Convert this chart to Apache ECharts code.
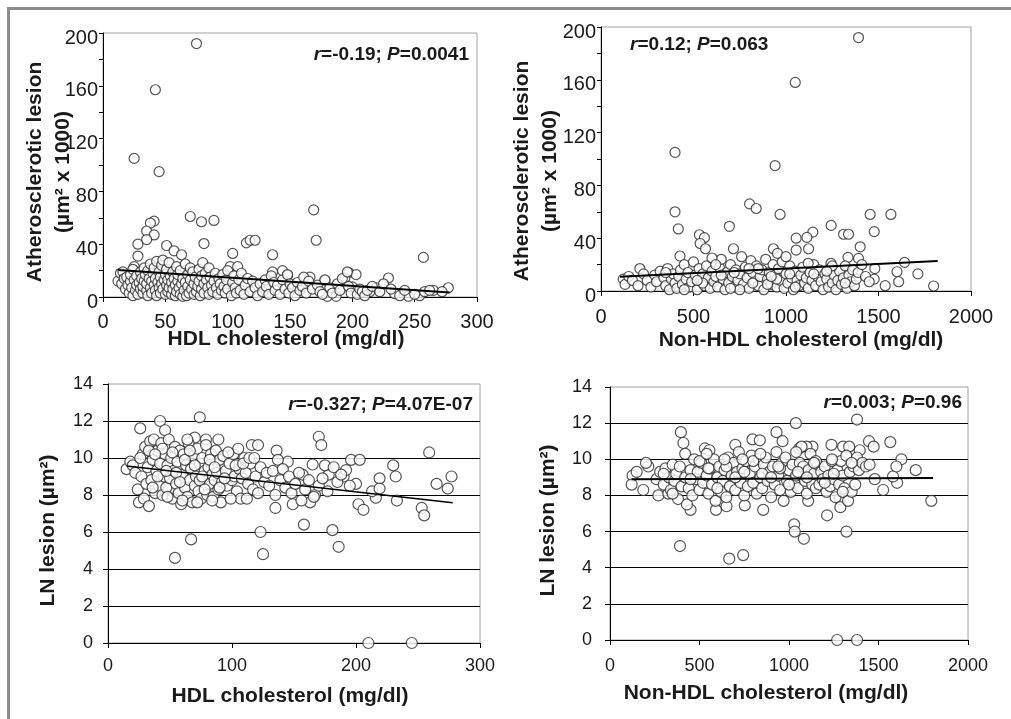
<!DOCTYPE html>
<html lang="en">
<head>
    <meta charset="UTF-8">
    <title>Lesion vs cholesterol</title>
    <style>
        body { margin: 0; background: #fff; }
        #chart { width: 1011px; height: 719px; }
    </style>
    <script src="https://cdn.jsdelivr.net/npm/echarts@6/dist/echarts.min.js"></script>
</head>
<body>
<div id="chart"></div>
<script>
    // HDL cholesterol vs atherosclerotic lesion (x1000)
    var hdlAth = [
        [75,192],[42,157],[25,105],[45,95],[169,66],[171,43],[70,61],[79,57],[89,58],[41,57.5],[38,56],
        [35,50],[41,47],[35,43.5],[28,40],[28,31],[25,23],[51,39],[57,35],[63,32],[81,40.5],[115,41],
        [118,43],[122,43],[136,32],[104,33],[102,23],[108,23],[136,19],[144,20],[148,16.5],[166,15],
        [178,12.7],[197,18.5],[203,17],[194,14.4],[229,14.4],[257,30],[265,5],[277,7],[245,0.5],[254,1],
        [219,7],[214,4],[200,7.6],[234,2.5],[180,0.5],[187,0.5],
        [12,12],[14,18],[15,10],[16,19],[17,14],[18,6],[19,15],[20,9],[21,3],[22,12],[22,17],[23,7],
        [24,21],[24,1],[25,13],[26,5],[27,9],[27,16],[28,2],[29,11],[30,19],[30,6],[31,14],[32,3],
        [32,8],[33,22],[33,12],[34,17],[35,5],[35,10],[36,1],[36,20],[37,14],[38,7],[38,25],[39,3],
        [39,12],[40,18],[41,9],[41,22],[42,5],[42,14],[43,1],[43,27],[44,11],[45,7],[45,19],[46,15],
        [46,3],[47,24],[47,10],[48,6],[48,28],[49,13],[50,2],[50,17],[51,9],[51,21],[52,4],[52,13],
        [53,26],[53,7],[54,16],[55,2],[55,11],[56,19],[56,6],[57,14],[58,1],[58,9],[59,23],[59,4],
        [60,12],[60,17],[61,7],[62,2],[62,20],[63,10],[64,14],[64,0.5],[65,5],[66,25],[66,11],[67,1],
        [68,17],[68,8],[69,3],[70,13],[70,22],[71,6],[72,19],[73,2],[73,10],[74,15],[75,4],[76,8],
        [77,21],[77,12],[78,1],[79,16],[79,6],[80,26],[81,10],[81,3],[82,18],[83,13],[84,7],[85,22],
        [85,2],[86,15],[87,9],[88,4],[89,12],[90,18],[91,7],[92,2],[93,14],[94,10],[95,5],[96,17],
        [97,8],[98,3],[99,13],[100,20],[100,6],[103,1],[104,11],[105,16],[106,7],[107,3],[109,13],
        [110,5],[111,18],[113,2],[114,9],[116,14],[118,4],[120,12],[122,7],[124,1],[126,10],[128,4],
        [130,13],[131,8],[133,2],[135,16],[137,11],[138,5],[140,9],[142,2],[144,13],[146,6],[148,17],
        [149,3],[150,10],[152,7],[154,1],[156,11],[158,5],[160,8],[161,15],[163,3],[165,12],[168,6],
        [172,9],[174,4],[176,2],[178,13],[182,7],[184,3],[188,10],[190,5],[192,14],[196,19],[197,8],
        [199,3],[204,2],[206,6],[208,4],[210,1],[212,5],[216,8],[222,4],[225,10],[231,6],[238,1],
        [242,5],[250,2],[258,4],[262,5],[272,4]
    ];
    var hdlAthTrend = [[12,20.5],[278,3.5]];

    // Non-HDL cholesterol vs atherosclerotic lesion (x1000)
    var nonHdlAth = [
        [1392,192],[1050,158],[400,105],[941,95],[400,60],[418,47],[803,66],[839,62.5],[968,58],
        [1455,58],[1567,58],[1244,49.7],[1311,43],[1338,43],[1477,45],[1145,44.6],[1113,40.6],
        [1122,32],[1055,40],[1055,31],[694,49],[532,42.6],[559,40.4],[536,36],[565,32],[716,32],
        [427,26.5],[932,32],[954,28.5],[1401,33.5],[1392,24.7],[1335,25.5],[1641,21.7],[1713,13],
        [1798,3.8],[1536,4],[1600,14.6],[1609,7],[1477,9],[1243,21],
        [120,9],[130,5],[150,11],[170,8],[200,4],[210,17],[230,13],[250,8],[270,3],[290,12],[300,7],
        [320,15],[340,10],[350,4],[360,17],[370,1],[380,9],[390,13],[400,6],[410,2],[420,11],[430,16],
        [440,5],[450,20],[460,9],[470,14],[480,3],[490,7],[500,22],[510,12],[520,1],[530,17],[540,8],
        [550,13],[560,4],[570,19],[580,10],[590,2],[600,15],[610,7],[620,11],[630,3],[640,18],[650,24],
        [660,9],[670,1],[680,14],[690,6],[700,20],[710,11],[720,3],[730,16],[740,8],[750,13],[760,26],
        [770,5],[780,18],[790,10],[800,2],[810,23],[820,14],[830,7],[840,19],[850,4],[860,11],[870,16],
        [880,1],[890,24],[900,9],[910,14],[920,5],[930,20],[940,12],[950,3],[960,17],[970,8],[980,22],
        [990,2],[1000,13],[1010,6],[1020,19],[1030,10],[1040,1],[1050,15],[1060,8],[1070,4],[1080,12],
        [1090,18],[1100,6],[1110,10],[1120,2],[1130,14],[1140,8],[1150,20],[1160,4],[1170,11],[1180,16],
        [1190,7],[1200,1],[1210,13],[1220,9],[1230,3],[1240,17],[1250,6],[1260,12],[1270,1],[1280,8],
        [1290,15],[1300,5],[1310,10],[1320,19],[1330,2],[1340,12],[1350,7],[1360,16],[1370,4],[1380,9],
        [1390,14],[1410,20],[1430,11],[1450,7],[1480,17],
        [350,14],[450,1],[550,6],[650,12],[750,1],[850,17],[950,9],[1050,3],[1150,13],[1250,19],
        [600,25],[700,2],[800,17],[900,5],[1000,26],[520,8],[620,20],[720,14],[820,6],[920,11],
        [1020,13],[1120,21],[1220,15],[1320,6]
    ];
    var nonHdlAthTrend = [[103,10.8],[1820,22.7]];

    // HDL cholesterol vs LN lesion
    var hdlLn = [
        [54,4.6],[67,5.6],[125,4.8],[123,6.0],[158,6.4],[181,6.1],[186,5.2],[210,0],[245,0],
        [74,12.2],[42,12.0],[26,11.6],[46,11.5],[89,11.0],[70,11.1],[79,11.0],[116,10.7],[121,10.7],
        [170,11.15],[172,10.7],[136,10.4],[259,10.3],[196,9.9],[203,9.9],[178,9.1],[175,9.6],
        [230,9.6],[232,9.0],[190,9.0],[192,9.35],[219,8.9],[200,8.6],[202,7.5],[206,7.2],[265,8.6],
        [277,9.0],[274,8.35],[253,7.3],[255,6.9],[233,7.7],[216,7.85],[213,8.2],[219,8.35],[149,7.5],
        [135,7.3],[163,7.6],[157,9.1],[145,9.8],[165,9.65],[167,8.0],[182,9.5],
        [15,9.4],[18,9.8],[20,9.6],[22,9.2],[24,8.3],[25,7.6],[27,9.0],[28,10.2],[29,7.8],[30,10.6],
        [31,8.6],[32,9.5],[33,7.4],[34,10.9],[35,8.8],[36,9.9],[37,11.0],[38,8.1],[39,9.3],[40,10.4],
        [41,8.5],[42,9.7],[43,10.8],[44,8.0],[45,9.0],[46,10.2],[47,8.4],[48,9.6],[49,11.0],[50,8.9],
        [51,10.0],[52,7.8],[53,9.3],[54,10.6],[55,8.6],[56,9.8],[57,8.1],[58,10.4],[59,7.5],[60,9.1],
        [61,10.2],[62,8.4],[63,9.6],[64,7.9],[65,10.8],[66,8.8],[67,9.4],[68,7.6],[69,10.1],[70,8.5],
        [71,9.0],[72,10.5],[73,8.2],[74,9.7],[75,7.8],[76,10.0],[77,8.9],[78,9.3],[79,10.7],[80,8.0],
        [81,9.5],[82,8.6],[83,10.2],[84,9.1],[85,7.9],[86,8.8],[87,10.4],[88,9.2],[89,8.3],[90,9.9],
        [91,7.6],[92,8.7],[93,10.1],[95,9.3],[96,8.5],[98,9.7],[100,8.8],[101,10.2],[102,9.0],[104,8.2],
        [105,10.5],[106,9.4],[107,7.8],[108,8.9],[110,10.0],[111,9.2],[112,7.8],[113,8.6],[115,9.7],
        [117,8.3],[119,9.0],[121,8.1],[123,9.5],[126,8.7],[128,9.2],[130,8.5],[133,9.3],[135,8.0],
        [137,9.9],[139,8.8],[141,9.4],[143,8.4],[146,9.0],[148,8.1],[151,8.6],[154,9.2],[156,7.7],
        [159,8.3],[162,8.8],[166,7.9],[170,8.5],[173,8.9],[177,8.2],[185,8.7],[188,9.1],[195,8.5],
        [26,10.0],[33,10.4],[36,8.4],[40,9.0],[44,10.5],[47,9.3],[52,10.3],[55,9.2],[58,8.7],[62,9.9],
        [66,10.4],[70,9.6],[74,8.8],[78,8.3],[82,9.9],[86,9.5],[90,8.4],[94,8.9],[97,10.3],[99,7.8],
        [103,9.6],[109,9.7],[114,10.0],[118,10.0],[48,7.9],[60,7.7],[72,7.6],[84,7.7],[38,10.2],
        [64,11.0],[76,9.0]
    ];
    var hdlLnTrend = [[15,9.57],[278,7.58]];

    // Non-HDL cholesterol vs LN lesion
    var nonHdlLn = [
        [1380,12.2],[1038,12.0],[396,11.5],[930,11.5],[796,11.1],[837,11.05],[964,11.0],[1447,11.0],
        [1473,10.7],[1566,10.95],[1628,10.0],[1708,9.4],[1795,7.7],[1526,8.3],[1604,8.7],[1581,9.05],
        [1600,9.6],[1479,8.9],[391,5.2],[666,4.5],[744,4.7],[1029,6.4],[1032,6.0],[1083,5.6],
        [1321,6.0],[1213,6.9],[1269,0],[1380,0],[856,7.2],[450,7.2],[592,7.2],[651,7.4],[753,7.45],
        [1107,7.7],[1283,7.8],[1287,7.35],[1237,10.8],[1302,10.7],[1336,10.7],[1131,10.7],[1057,10.6],
        [1098,10.7],[1395,10.5],[126,9.1],[121,8.6],[149,9.3],[214,9.6],[201,9.8],[186,8.3],[270,8.0],
        [326,8.1],
        [260,8.9],[280,9.3],[300,8.6],[310,9.5],[330,9.0],[340,8.3],[350,9.7],[360,8.8],[370,9.2],
        [380,7.8],[390,9.6],[400,8.5],[410,10.9],[420,9.0],[420,10.3],[430,7.5],[440,8.4],[450,9.4],
        [460,8.0],[470,10.0],[480,8.9],[490,9.3],[500,8.3],[510,9.8],[520,8.7],[530,10.6],[540,9.1],
        [550,8.1],[555,10.5],[560,9.5],[570,8.6],[580,10.0],[590,7.7],[600,9.0],[610,9.6],[620,8.2],
        [630,8.8],[640,9.4],[650,7.9],[660,10.1],[670,8.5],[680,9.1],[690,9.8],[700,10.8],[700,8.3],
        [710,9.3],[720,10.4],[730,8.7],[740,9.5],[750,8.0],[760,9.9],[770,8.5],[780,9.2],[790,10.2],
        [800,8.7],[810,9.6],[820,8.1],[830,10.0],[840,9.0],[850,8.4],[860,9.7],[870,10.1],[880,8.8],
        [890,9.3],[900,7.9],[910,9.6],[920,8.6],[930,10.4],[940,9.1],[950,8.3],[960,9.8],[970,7.7],
        [980,10.1],[990,8.8],[1000,9.4],[1010,8.2],[1020,9.7],[1030,8.7],[1040,9.1],[1050,8.4],
        [1060,9.8],[1070,10.7],[1080,9.6],[1090,8.8],[1100,8.1],[1110,9.4],[1120,10.3],[1130,8.6],
        [1140,9.2],[1150,8.4],[1160,9.7],[1170,8.6],[1180,9.3],[1190,8.9],[1200,9.6],[1210,8.2],
        [1220,9.1],[1230,8.5],[1240,9.9],[1250,8.9],[1260,7.9],[1270,9.4],[1280,8.6],[1290,9.9],
        [1300,9.1],[1310,8.4],[1320,10.2],[1330,7.7],[1340,9.3],[1350,8.2],[1360,9.6],[1370,8.6],
        [1380,10.1],[1390,9.4],[1410,9.8],[1430,9.6],[1450,9.7],
        [300,9.2],[350,8.1],[450,8.9],[500,9.9],[550,9.5],[600,8.4],[650,9.6],[700,9.0],[750,9.3],
        [800,9.9],[850,9.2],[900,9.0],[950,9.5],[1000,8.6],[1050,9.3],[1100,9.0],[1150,9.9],[1200,8.7],
        [1250,9.2],[1300,8.2],[1350,9.8],[540,10.3],[640,10.0],[740,10.0],[840,10.3],[940,9.6],
        [1040,10.4],[1140,9.8],[1240,10.0]
    ];
    var nonHdlLnTrend = [[121,8.9],[1805,8.96]];

    var FONT = "'Liberation Sans', Arial, sans-serif";
    var INK = '#1a1a1a';

    var chart = echarts.init(document.getElementById('chart'));

    function plain(v) { return String(v); }

    function xAxis(i, max, step, name, gap, pad, size, margin) {
        return {
            gridIndex: i, type: 'value', min: 0, max: max, interval: step,
            name: name, nameLocation: 'middle', nameGap: gap, nameMoveOverlap: false,
            nameTextStyle: { fontFamily: FONT, fontSize: 21, fontWeight: 'bold', color: INK, padding: pad },
            axisLine: { lineStyle: { color: '#000', width: 1 } },
            axisTick: { show: true, length: 5, lineStyle: { color: '#000' } },
            axisLabel: { fontFamily: FONT, fontSize: size, color: INK, margin: margin, formatter: plain },
            splitLine: { show: false }
        };
    }

    function topY(i, gap, pad) {
        return {
            gridIndex: i, type: 'value', min: 0, max: 200, interval: 20,
            name: 'Atherosclerotic lesion\n(µm² x 1000)', nameLocation: 'middle', nameGap: gap,
            nameMoveOverlap: false,
            nameTextStyle: { fontFamily: FONT, fontSize: 21, fontWeight: 'bold', color: INK, lineHeight: 28, padding: pad },
            axisLine: { show: true, lineStyle: { color: '#000', width: 1 } },
            axisTick: { show: true, length: 4, lineStyle: { color: '#000' } },
            axisLabel: {
                fontFamily: FONT, fontSize: 20, color: INK, margin: 5,
                verticalAlign: 'top', lineHeight: 10,
                formatter: function (v) { return v % 40 === 0 ? String(v) : ''; }
            },
            splitLine: { show: false }
        };
    }

    function lnY(i, gap, pad, margin) {
        return {
            gridIndex: i, type: 'value', min: 0, max: 14, interval: 2,
            name: 'LN lesion (µm²)', nameLocation: 'middle', nameGap: gap, nameMoveOverlap: false,
            nameTextStyle: { fontFamily: FONT, fontSize: 21, fontWeight: 'bold', color: INK, padding: pad },
            axisLine: { show: true, lineStyle: { color: '#000', width: 1 } },
            axisTick: { show: true, length: 5, lineStyle: { color: '#000' } },
            axisLabel: { fontFamily: FONT, fontSize: 18, color: INK, margin: margin, formatter: plain },
            splitLine: { show: true, showMaxLine: false, lineStyle: { color: '#000', width: 1 } }
        };
    }

    function dots(i, data, size) {
        return {
            type: 'scatter', xAxisIndex: i, yAxisIndex: i, data: data,
            symbol: 'circle', symbolSize: size,
            itemStyle: { color: '#fff', borderColor: '#2a2a2a', borderWidth: 1.2 },
            z: 2
        };
    }

    function trend(i, data, width) {
        return {
            type: 'line', xAxisIndex: i, yAxisIndex: i, data: data,
            symbol: 'none', lineStyle: { color: '#000', width: width }, z: 3
        };
    }

    function note(x, y, align, r, p) {
        return {
            type: 'text', x: x, y: y, z: 10,
            style: {
                text: '{i|r}{b|=' + r + '; }{i|P}{b|=' + p + '}',
                align: align, verticalAlign: 'middle',
                rich: {
                    i: { fontFamily: FONT, fontSize: 19, fontWeight: 'bold', fontStyle: 'italic', fill: INK },
                    b: { fontFamily: FONT, fontSize: 19, fontWeight: 'bold', fill: INK }
                }
            }
        };
    }

    var gridBox = { show: true, borderColor: '#a0a0a0', borderWidth: 1, backgroundColor: 'transparent' };

    chart.setOption({
        animation: false,
        backgroundColor: '#fff',
        grid: [
            Object.assign({ left: 103, top: 33, width: 374, height: 264 }, gridBox),
            Object.assign({ left: 601, top: 27, width: 370, height: 264 }, gridBox),
            Object.assign({ left: 108, top: 384, width: 372, height: 259 }, gridBox),
            Object.assign({ left: 610, top: 387, width: 358, height: 253 }, gridBox)
        ],
        xAxis: [
            xAxis(0, 300, 50, 'HDL cholesterol (mg/dl)', 32, [0, 8, 0, 0], 20, 15),
            xAxis(1, 2000, 500, 'Non-HDL cholesterol (mg/dl)', 39, [0, 0, 0, 30], 20, 16),
            xAxis(2, 300, 100, 'HDL cholesterol (mg/dl)', 43, [0, 8, 0, 0], 18, 14),
            xAxis(3, 2000, 500, 'Non-HDL cholesterol (mg/dl)', 43, [0, 46, 0, 0], 18, 17)
        ],
        yAxis: [
            topY(0, 26, [0, 14, 0, 0]),
            topY(1, 37, [0, 24, 0, 0]),
            lnY(2, 49, [0, 34, 0, 0], 15),
            lnY(3, 51, [0, 14, 0, 0], 18)
        ],
        series: [
            dots(0, hdlAth, 10), trend(0, hdlAthTrend, 2),
            dots(1, nonHdlAth, 10), trend(1, nonHdlAthTrend, 2),
            dots(2, hdlLn, 11), trend(2, hdlLnTrend, 1.5),
            dots(3, nonHdlLn, 11), trend(3, nonHdlLnTrend, 2)
        ],
        graphic: [
            { type: 'line', shape: { x1: 7, y1: 8.5, x2: 1011, y2: 8.5 }, style: { stroke: '#8c8c8c', lineWidth: 3 } },
            { type: 'line', shape: { x1: 8.5, y1: 7, x2: 8.5, y2: 719 }, style: { stroke: '#8c8c8c', lineWidth: 3 } },
            note(469, 55, 'right', '-0.19', '0.0041'),
            note(630, 45, 'left', '0.12', '0.063'),
            note(473, 405, 'right', '-0.327', '4.07E-07'),
            note(962, 403, 'right', '0.003', '0.96')
        ]
    });
</script>
</body>
</html>
